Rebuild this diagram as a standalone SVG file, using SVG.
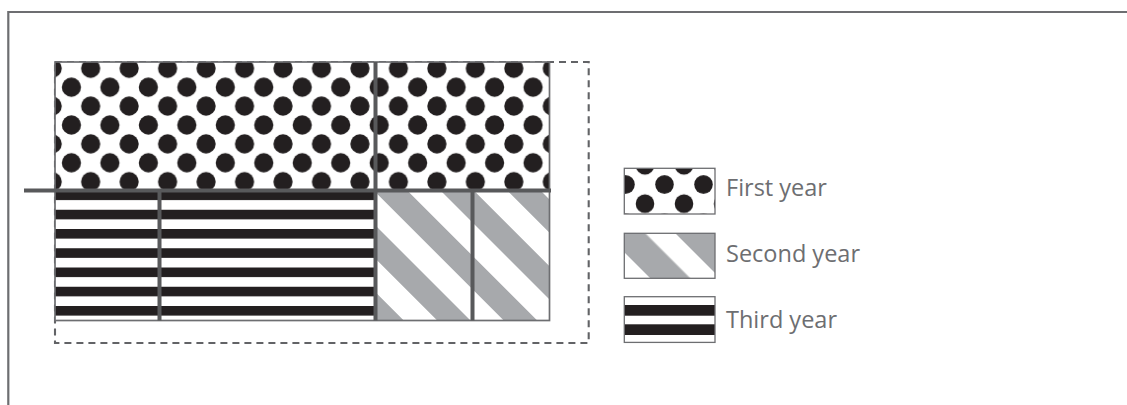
<svg xmlns="http://www.w3.org/2000/svg" width="1127" height="405" viewBox="0 0 1127 405">
  <style>
    .frame { stroke: #6d6e71; stroke-width: 2.2; fill: none; }
    .outline { stroke: #6d6e71; stroke-width: 1.7; fill: none; }
    .dashed { stroke: #626366; stroke-width: 2.1; fill: none; stroke-dasharray: 7 5; }
    .divider { stroke: #58595b; stroke-width: 4; fill: none; }
    .lbox { stroke: #6d6e71; stroke-width: 1.3; }
    .label { font-family: "Open Sans", "Liberation Sans", sans-serif; font-size: 23.5px; fill: #6d6e71; }
    .ink { fill: #231f20; }
  </style>
  <defs>
    <pattern id="dots" patternUnits="userSpaceOnUse" x="52.2" y="68.3" width="38.47" height="37.8">
      <rect width="38.47" height="37.8" fill="#ffffff"/>
      <circle class="ink" cx="0" cy="0" r="9.6"/>
      <circle class="ink" cx="38.47" cy="0" r="9.6"/>
      <circle class="ink" cx="0" cy="37.8" r="9.6"/>
      <circle class="ink" cx="38.47" cy="37.8" r="9.6"/>
      <circle class="ink" cx="19.235" cy="18.9" r="9.6"/>
    </pattern>
    <pattern id="stripes" patternUnits="userSpaceOnUse" x="0" y="190.5" width="100" height="19.25">
      <rect width="100" height="19.25" fill="#ffffff"/>
      <rect class="ink" x="0" y="0" width="100" height="9.6"/>
    </pattern>
    <pattern id="diag" patternUnits="userSpaceOnUse" x="35.36" y="0" width="47.14" height="100" patternTransform="rotate(-45)">
      <rect width="47.14" height="100" fill="#ffffff"/>
      <rect x="0" y="0" width="23.57" height="100" fill="#a7a9ac"/>
    </pattern>
    <pattern id="ldots" patternUnits="userSpaceOnUse" x="606" y="165.3" width="39" height="38.4">
      <rect width="39" height="38.4" fill="#ffffff"/>
      <circle class="ink" cx="0" cy="0" r="9.3"/>
      <circle class="ink" cx="39" cy="0" r="9.3"/>
      <circle class="ink" cx="0" cy="38.4" r="9.3"/>
      <circle class="ink" cx="39" cy="38.4" r="9.3"/>
      <circle class="ink" cx="19.5" cy="19.2" r="9.3"/>
    </pattern>
    <pattern id="ldiag" patternUnits="userSpaceOnUse" x="263.06" y="0" width="49.5" height="100" patternTransform="rotate(-45)">
      <rect width="49.5" height="100" fill="#ffffff"/>
      <rect x="0" y="0" width="28.28" height="100" fill="#a7a9ac"/>
    </pattern>
  </defs>

  <rect width="1127" height="405" fill="#ffffff"/>

  <g id="frame">
    <path class="frame" d="M8.3 405 V12 H1127"/>
  </g>

  <g id="boundary">
    <rect class="dashed" x="55" y="62" width="533.7" height="281"/>
  </g>

  <g id="first-year-area">
    <rect x="55" y="62" width="494.5" height="128.5" fill="url(#dots)"/>
  </g>
  <g id="third-year-area">
    <rect x="55" y="190.5" width="320.5" height="130" fill="url(#stripes)"/>
  </g>
  <g id="second-year-area">
    <rect x="375.5" y="190.5" width="174" height="130" fill="url(#diag)"/>
  </g>
  <g id="block-outline">
    <rect class="outline" x="55" y="62" width="494.5" height="258.5"/>
  </g>

  <g id="connectors">
    <line class="divider" x1="24" y1="190.5" x2="551" y2="190.5"/>
    <line class="divider" x1="375.5" y1="62" x2="375.5" y2="320.5"/>
    <line class="divider" x1="159.5" y1="190.5" x2="159.5" y2="320.5"/>
    <line class="divider" x1="472.5" y1="190.5" x2="472.5" y2="320.5"/>
  </g>

  <g id="legend-first">
    <rect class="lbox" x="624.3" y="168.3" width="90.7" height="45.7" fill="url(#ldots)"/>
    <text class="label" x="726" y="196">First year</text>
  </g>
  <g id="legend-second">
    <rect class="lbox" x="624.3" y="233.3" width="90.7" height="45" fill="url(#ldiag)"/>
    <text class="label" x="726" y="262">Second year</text>
  </g>
  <g id="legend-third">
    <rect x="624.3" y="296.7" width="90.7" height="45.7" fill="#ffffff"/>
    <rect class="ink" x="624.3" y="305" width="90.7" height="10.7"/>
    <rect class="ink" x="624.3" y="324.3" width="90.7" height="10.7"/>
    <rect class="lbox" x="624.3" y="296.7" width="90.7" height="45.7" fill="none"/>
    <text class="label" x="726" y="327.5">Third year</text>
  </g>
</svg>
